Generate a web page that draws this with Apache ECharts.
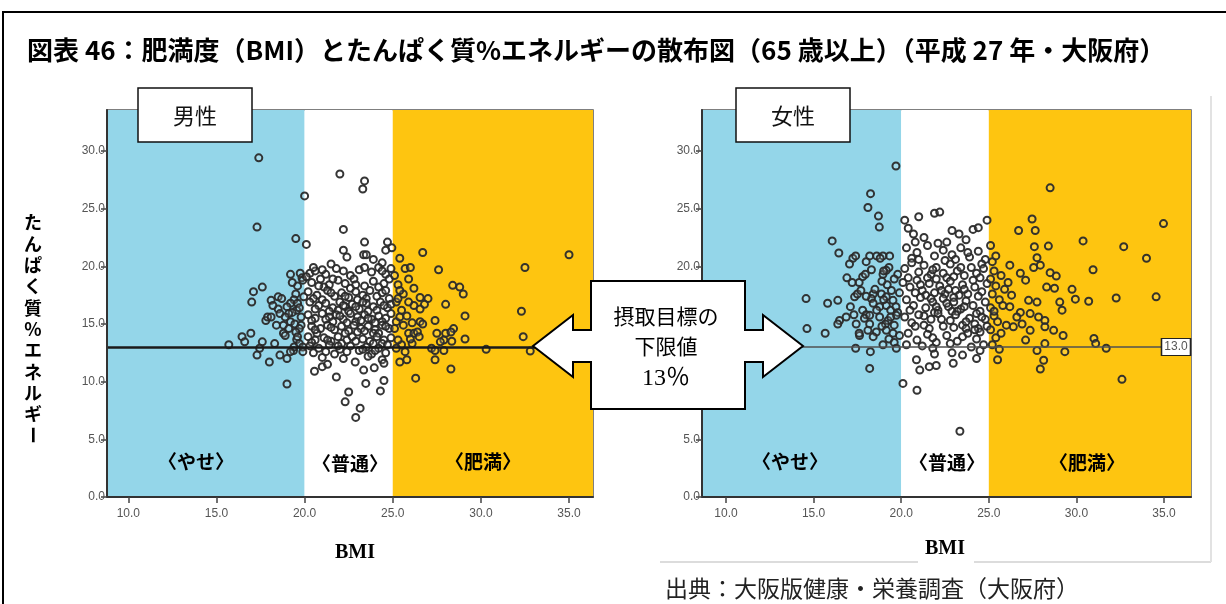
<!DOCTYPE html>
<html><head><meta charset="utf-8">
<script src="https://cdn.jsdelivr.net/npm/echarts@6/dist/echarts.min.js"></script>
<style>html,body{margin:0;padding:0;background:#fff}#c{width:1226px;height:604px}</style>
</head><body><div id="c"></div>
<script>
// ---- data ----
const xTicks = [10, 15, 20, 25, 30, 35];
const yTicks = [0, 5, 10, 15, 20, 25, 30];
const bmiBands = [20, 25];          // やせ / 普通 / 肥満 boundaries
const targetPct = 13;               // 摂取目標の下限値
const bandNames = ['〈やせ〉', '〈普通〉', '〈肥満〉'];
const panelNames = ['男性', '女性'];

const malePoints = [
  // やせ (<20)
  [17.4,29.4],[17.3,23.4],[19.5,22.4],[20.0,26.1],
  [19.2,19.3],[19.75,19.4],[19.85,19.0],[19.6,18.3],[19.9,18.8],[19.3,18.6],
  [17.1,17.8],[17.6,18.2],[17.0,16.9],[18.1,17.05],[18.5,17.35],[18.7,17.2],[19.5,17.6],[19.95,17.35],[19.4,17.1],
  [19.2,16.8],[19.0,16.5],[19.6,16.8],[18.5,16.3],[19.55,16.2],[19.3,16.0],[19.1,15.9],[19.7,16.4],[18.6,15.9],[18.2,16.6],
  [17.8,15.3],[17.9,15.6],[18.1,15.6],[18.9,15.6],[19.8,15.6],[19.2,15.2],[19.45,15.0],[18.4,14.9],[18.8,14.9],[19.8,14.9],
  [19.7,14.6],[19.5,14.3],[18.8,14.2],[18.9,14.0],[19.1,14.6],[16.45,13.9],[16.95,14.2],[16.6,13.45],[15.7,13.2],[17.6,13.45],[19.55,13.65],[19.6,13.9],[19.7,13.3],[18.3,13.3],
  [17.45,12.9],[17.3,12.3],[19.37,12.7],[19.9,13.0],[19.4,13.0],[19.9,12.6],[19.2,12.6],[18.6,12.3],[19.0,12.0],[18.0,11.7],[19.0,9.8],
  // 普通 (20-25)
  [22.0,28.0],[23.4,27.4],[23.3,26.7],[22.2,23.2],[20.1,21.9],[23.4,22.1],[24.7,22.1],[24.95,21.6],[22.2,21.4],[22.4,20.8],[23.35,21.0],[23.5,21.0],[24.6,21.4],[24.4,20.3],[23.9,20.6],
  [20.3,19.4],[20.6,19.6],[21.2,19.3],[21.8,19.8],[22.6,19.2],[23.1,19.7],[23.8,19.5],[24.2,19.9],[24.6,19.3],[24.9,19.8],[20.1,19.1],[21.5,20.2],
  [20.5,19.9],[21.0,19.7],[22.2,19.6],[23.4,19.9],[24.4,19.6],
  [20.4,18.6],[20.9,18.9],[21.4,18.4],[21.9,18.8],[22.3,18.5],[22.8,18.9],[23.4,18.3],[23.9,18.7],[24.5,18.5],[24.8,18.9],[21.1,18.2],[22.6,18.1],
  [20.8,18.3],[21.6,18.9],[22.9,18.4],[24.2,18.2],
  [20.2,17.8],[20.7,17.5],[21.3,17.9],[21.7,17.4],[22.1,17.7],[22.5,17.3],[22.9,17.8],[23.3,17.5],[23.7,17.9],[24.1,17.4],[24.4,17.7],[24.8,17.2],[21.0,17.1],[23.0,17.1],
  [20.5,17.2],[21.5,17.7],[22.3,17.4],[23.5,17.2],[24.6,17.9],
  [20.3,16.9],[20.8,16.6],[21.2,16.8],[21.6,16.4],[22.0,16.9],[22.3,16.5],[22.7,16.7],[23.1,16.3],[23.5,16.8],[23.9,16.5],[24.3,16.9],[24.7,16.4],[21.9,16.2],[22.5,16.1],[23.6,16.1],[24.9,16.7],
  [20.6,16.3],[21.4,16.1],[22.2,16.6],[22.9,16.5],[23.3,16.9],[24.1,16.2],[24.5,16.6],
  [20.2,15.8],[20.6,15.5],[21.0,15.9],[21.4,15.6],[21.8,15.8],[22.2,15.4],[22.6,15.9],[23.0,15.6],[23.4,15.8],[23.8,15.4],[24.2,15.7],[24.6,15.5],[24.9,15.9],[21.6,15.2],[22.9,15.2],[24.0,15.1],
  [20.4,15.3],[21.2,15.4],[22.0,15.7],[22.4,15.1],[23.2,15.3],[23.6,15.5],[24.4,15.2],
  [20.4,14.8],[20.9,14.6],[21.3,14.9],[21.7,14.5],[22.1,14.8],[22.5,14.4],[22.8,14.9],[23.2,14.6],[23.6,14.8],[24.0,14.5],[24.4,14.9],[24.8,14.6],[20.7,14.2],[23.9,14.2],
  [20.6,14.5],[21.5,14.7],[22.3,14.2],[23.0,14.3],[23.4,14.4],[24.2,14.2],[24.6,14.8],
  [20.2,13.9],[20.6,13.6],[21.1,13.8],[21.5,13.5],[21.9,13.9],[22.4,13.6],[22.7,13.9],[23.3,13.7],[23.7,13.5],[24.1,13.9],[24.5,13.6],[24.9,13.8],
  [20.4,13.4],[21.3,13.6],[22.1,13.3],[22.9,13.5],[23.9,13.3],[24.4,13.3],
  [20.3,13.1],[20.8,12.9],[21.4,13.2],[22.0,12.8],[22.6,13.1],[23.1,12.7],[23.5,13.0],[24.2,12.9],[24.7,13.2],[24.6,12.5],[21.7,12.4],[23.8,12.4],
  [21.9,13.1],[23.3,12.8],[20.5,12.5],[22.4,12.6],[21.2,12.6],[24.0,12.7],
  [21.0,12.1],[22.2,12.0],[23.6,12.2],[24.4,11.9],
  [20.56,10.9],[21.0,11.3],[21.3,11.5],[21.8,10.4],[22.87,11.7],[23.35,11.0],[23.95,11.2],[24.5,11.6],[24.5,10.1],[23.47,9.85],[22.5,9.1],[22.3,8.25],[23.15,7.7],[22.9,6.9],[24.3,9.2],
  // 肥満 (>=25)
  [25.4,20.7],[25.7,19.8],[26.0,19.9],[25.9,18.9],[26.7,21.2],[27.6,19.7],[32.5,19.9],[35.0,21.0],
  [28.4,18.35],[28.8,18.2],[29.0,17.6],[26.55,17.3],[27.0,17.2],[26.2,16.6],[26.55,16.3],[28.0,16.7],[29.1,15.7],[32.3,16.1],
  [25.2,15.2],[25.4,15.6],[26.55,15.2],[26.7,15.0],[27.4,15.3],[28.45,14.6],[25.9,14.2],[26.2,14.2],[26.4,14.3],[27.5,14.2],[28.0,14.2],[28.3,14.3],[29.1,13.7],[32.4,13.9],[27.9,13.6],[27.7,13.45],[28.35,13.5],
  [25.5,13.2],[26.1,13.3],[27.2,12.9],[27.4,12.7],[27.9,12.7],[30.3,12.8],[32.8,12.65],[25.4,11.7],[25.8,11.9],[27.4,11.9],[28.3,11.1],[26.3,10.3],
  [25.1,19.2],[25.3,18.4],[25.6,17.6],[25.2,16.9],[25.5,16.2],[25.1,14.6],[25.8,15.7],[25.3,13.6],[25.9,16.9],[26.2,18.1],[25.4,17.9],[26.0,13.7],[25.2,12.9],
  [25.6,14.9],[26.5,13.9],[25.7,12.6],[26.8,16.7],[25.3,17.2],[26.1,15.1]
];

const femalePoints = [
  // やせ (<20)
  [19.7,28.7],[18.25,26.3],[18.1,25.1],[18.7,24.35],[18.75,23.4],[16.06,22.2],[16.44,21.15],[17.24,20.7],[17.4,20.9],[17.05,20.2],
  [18.2,20.9],[18.6,20.9],[18.96,20.9],[19.34,20.9],[18.8,20.7],[18.0,20.4],[19.3,19.9],
  [18.3,19.7],[17.8,19.1],[17.95,19.3],[18.96,19.3],[19.15,19.65],[17.6,18.6],[19.0,19.6],[19.8,19.3],[16.9,19.0],[17.2,18.6],
  [14.57,17.2],[15.8,16.8],[16.38,17.05],[17.34,17.35],[17.5,17.6],[18.4,17.6],[18.87,17.6],[19.15,17.35],[19.44,17.9],[19.53,17.05],[17.7,17.9],[18.3,17.2],[19.2,18.4],[19.6,18.9],[19.9,17.7],[18.5,18.0],[18.9,18.7],[19.0,17.1],[18.0,17.4],
  [18.4,16.8],[18.77,16.5],[19.15,16.6],[17.1,16.5],[17.8,16.2],[19.4,16.2],[19.8,16.0],[18.0,15.8],[19.7,16.5],[18.6,16.2],[17.3,15.8],
  [16.48,15.3],[16.86,15.6],[16.38,15.0],[17.43,15.0],[17.9,15.5],[18.2,15.75],[18.77,15.6],[19.25,15.3],[19.72,15.75],[19.1,15.0],[19.6,14.9],[18.2,15.0],[19.4,15.6],[18.9,14.8],
  [14.62,14.6],[15.66,14.2],[17.62,14.0],[18.1,14.45],[18.58,14.3],[19.15,14.45],[19.53,14.2],[17.6,14.2],[18.4,13.9],[19.9,14.0],[19.3,13.7],[19.6,13.4],
  [17.4,12.9],[18.24,12.6],[18.96,13.2],[19.72,12.9],[18.2,11.15],
  // 普通 (20-25)
  [20.2,24.0],[21.0,24.3],[21.9,24.6],[22.2,24.7],[20.4,23.3],[23.3,22.8],[24.1,23.2],[24.4,23.35],[24.9,24.0],[21.3,22.5],[22.6,22.1],[20.7,22.8],[23.7,22.3],[20.8,22.1],[22.9,23.1],
  [20.3,21.6],[20.9,21.2],[21.5,21.8],[21.9,20.9],[22.4,21.4],[22.9,21.0],[23.4,21.6],[23.9,20.8],[24.4,21.3],[24.8,20.6],[20.6,20.7],[22.1,22.0],[23.1,20.6],[21.0,20.6],[22.5,20.5],[23.8,21.2],[24.6,20.2],
  [20.2,19.8],[20.6,20.3],[21.0,19.5],[21.3,20.1],[21.7,19.3],[22.0,19.9],[22.4,19.4],[22.8,20.2],[23.2,19.6],[23.6,19.2],[24.0,19.9],[24.3,19.4],[24.7,19.8],[21.5,19.0],[23.0,19.1],
  [20.4,19.0],[21.8,19.7],[22.6,19.0],[23.4,19.9],[24.5,19.0],
  [20.1,18.6],[20.5,18.2],[20.9,18.8],[21.2,17.9],[21.6,18.5],[21.9,17.7],[22.2,18.3],[22.5,17.6],[22.8,18.7],[23.1,17.9],[23.5,18.4],[23.8,17.6],[24.2,18.2],[24.6,17.8],[24.9,18.5],[21.4,17.5],[22.7,18.0],[23.3,17.5],[22.0,18.9],
  [21.1,18.4],[24.1,18.8],[20.8,17.7],[21.7,17.2],[22.3,17.9],[23.0,17.3],[23.6,18.0],[24.4,17.4],
  [20.3,17.1],[20.7,16.6],[21.1,17.3],[21.4,16.4],[21.8,16.9],[22.1,16.2],[22.4,17.2],[22.7,16.5],[23.0,16.9],[23.4,16.3],[23.7,17.0],[24.1,16.6],[24.5,16.1],[24.8,16.9],[21.9,16.0],[22.6,16.8],[23.2,16.1],
  [20.5,16.2],[21.3,15.7],[22.0,16.5],[22.9,16.1],[23.6,16.5],[24.3,15.9],[24.8,15.4],
  [20.2,15.6],[20.6,15.1],[21.0,15.8],[21.3,14.9],[21.7,15.4],[22.1,15.9],[22.4,14.8],[22.8,15.3],[23.1,15.8],[23.5,14.9],[23.9,15.5],[24.2,15.0],[24.6,15.6],[24.9,14.8],[24.4,14.6],[23.7,14.6],
  [20.8,14.8],[21.6,14.6],[22.3,15.4],[23.0,14.7],[23.7,15.2],[24.5,14.3],
  [20.4,14.2],[20.9,13.6],[21.5,14.1],[22.0,13.4],[22.6,14.0],[23.2,13.5],[23.8,14.2],[24.3,13.7],[24.7,13.2],[24.0,13.0],[21.2,13.1],
  [20.3,13.2],[21.8,13.8],[22.8,13.3],[23.5,13.9],[24.2,14.5],
  [21.8,12.9],[21.9,12.4],[24.5,12.7],[22.9,12.5],[23.5,12.3],[20.87,11.9],[21.06,11.0],[21.6,11.3],[22.0,11.4],[22.97,11.6],[20.1,9.85],[20.9,9.25],[23.35,5.7],[24.3,12.0],
  // 肥満 (>=25)
  [28.5,26.8],[34.97,23.7],[27.47,24.1],[26.7,23.1],[27.65,23.1],[30.38,22.2],[32.7,21.7],[34.0,20.7],[27.6,21.7],[28.4,21.75],[27.75,20.75],[27.56,19.9],[27.94,20.1],[30.95,19.7],[28.5,19.45],[28.85,19.15],
  [26.2,20.1],[26.8,19.4],[27.1,18.8],[28.3,18.2],[28.75,18.1],[29.75,18.0],[29.94,17.15],[30.7,16.97],[32.27,17.25],[34.55,17.35],[29.05,16.9],[29.18,16.2],[27.27,17.05],[27.75,16.9],
  [26.2,16.5],[26.8,16.0],[27.36,15.9],[27.84,15.6],[28.2,15.3],[26.4,14.75],[26.9,15.0],[27.36,14.45],[28.2,14.75],[28.7,14.45],[29.24,14.0],[31.0,13.75],[31.1,13.3],[31.7,12.9],
  [27.1,13.6],[28.2,13.3],[27.75,12.7],[29.34,12.6],[28.13,11.86],[27.94,11.1],[32.6,10.2],
  [25.1,21.8],[25.2,20.4],[25.3,19.6],[25.1,18.9],[25.4,18.3],[25.2,17.6],[25.6,17.1],[25.1,16.4],[25.3,15.7],[25.5,15.2],[25.1,14.5],[25.4,13.8],[25.2,13.2],[25.6,12.8],[25.8,16.6],[25.9,18.0],[26.0,14.9],[25.7,19.2],[25.5,11.9],
  [25.3,16.1],[25.7,14.2],[26.3,17.5],[26.6,15.6],[25.4,20.9],[26.1,18.6]
];

// ---- chart ----
const BLUE = '#94D6E9', ORANGE = '#FEC510';
const xRanges = [[8.79, 36.36], [8.63, 36.54]];
const yMax = 33.55;
const chart = echarts.init(document.getElementById('c'), null, {renderer: 'canvas'});

function axisX(i) {
  return {
    type: 'value', gridIndex: i, min: xRanges[i][0], max: xRanges[i][1], z: 5,
    axisLine: {show: true, onZero: false, lineStyle: {color: '#333', width: 2}},
    axisTick: {show: true, customValues: xTicks, length: 6, lineStyle: {color: '#444', width: 1.5}},
    axisLabel: {customValues: xTicks, formatter: v => Number(v).toFixed(1), color: '#555', fontSize: 12, margin: 11, fontFamily: 'Liberation Sans'},
    splitLine: {show: false}
  };
}
function axisY(i) {
  return {
    type: 'value', gridIndex: i, min: 0, max: yMax, z: 5,
    axisLine: {show: true, lineStyle: {color: '#333', width: 2}},
    axisTick: {show: true, customValues: yTicks, length: 6, lineStyle: {color: '#444', width: 1.5}},
    axisLabel: {customValues: yTicks, formatter: v => Number(v).toFixed(1), color: '#555', fontSize: 12, margin: 2, fontFamily: 'Liberation Sans'},
    splitLine: {show: false}
  };
}
function scatterSeries(i, pts, lineColor, lineWidth, withLabel) {
  const s = {
    type: 'scatter', xAxisIndex: i, yAxisIndex: i, data: pts, symbol: 'circle', symbolSize: 7,
    itemStyle: {color: 'rgba(255,255,255,0.15)', borderColor: '#2a2a2a', borderWidth: 2, opacity: 0.95},
    silent: true,
    markArea: {silent: true, z: 1, data: [
      [{xAxis: xRanges[i][0], itemStyle: {color: BLUE, opacity: 1}}, {xAxis: bmiBands[0]}],
      [{xAxis: bmiBands[0], itemStyle: {color: '#ffffff', opacity: 1}}, {xAxis: bmiBands[1]}],
      [{xAxis: bmiBands[1], itemStyle: {color: ORANGE, opacity: 1}}, {xAxis: xRanges[i][1]}]
    ]},
    markLine: {silent: true, symbol: 'none', label: {show: false},
      lineStyle: {color: lineColor, width: lineWidth, type: 'solid'},
      data: [{yAxis: targetPct}]}
  };
  if (withLabel) {
    s.markPoint = {silent: true, data: [{coord: [xRanges[i][1], targetPct], symbol: 'rect', symbolSize: [29, 17], symbolOffset: [-15, 0],
      itemStyle: {color: '#fff', borderColor: '#222', borderWidth: 1.2},
      label: {show: true, formatter: targetPct.toFixed(1), color: '#555', fontSize: 12, fontFamily: 'Liberation Sans'}}]};
  }
  return s;
}

const FJ = '"Noto Sans CJK JP", sans-serif';
const yTitleChars = 'たんぱく質%エネルギ';
const graphics = [
  {type: 'rect', z: 100, shape: {x: 3, y: 12, width: 1250, height: 620}, style: {fill: 'none', stroke: '#000', lineWidth: 2}},
  {type: 'text', z: 100, x: 27, y: 50, style: {text: '図表 46：肥満度（BMI）とたんぱく質%エネルギーの散布図（65 歳以上）（平成 27 年・大阪府）',
    font: 'bold 26px ' + FJ, fill: '#000', textVerticalAlign: 'middle'}},
  // y-axis title (vertical)
  {type: 'text', z: 100, x: 33, y: 212, style: {text: yTitleChars.split('').join('\n'), font: 'bold 18px ' + FJ, lineHeight: 21.3,
    fill: '#000', textAlign: 'center'}},
  {type: 'text', z: 100, x: 33, y: 435, rotation: -Math.PI / 2, style: {text: 'ー', font: 'bold 18px ' + FJ, fill: '#000', textAlign: 'center', textVerticalAlign: 'middle'}},
  // panel name boxes
  {type: 'rect', z: 100, shape: {x: 138, y: 88, width: 114, height: 54}, style: {fill: '#fff', stroke: '#111', lineWidth: 1.5}},
  {type: 'text', z: 101, x: 195, y: 116, style: {text: panelNames[0], font: '22px ' + FJ, fill: '#111', textAlign: 'center', textVerticalAlign: 'middle'}},
  {type: 'rect', z: 100, shape: {x: 736, y: 88, width: 114, height: 54}, style: {fill: '#fff', stroke: '#111', lineWidth: 1.5}},
  {type: 'text', z: 101, x: 793, y: 116, style: {text: panelNames[1], font: '22px ' + FJ, fill: '#111', textAlign: 'center', textVerticalAlign: 'middle'}},
  // target arrow
  {type: 'polygon', z: 100, shape: {points: [[591,281],[745,281],[745,330],[763,330],[763,315],[803,346],[763,377],[763,362],[745,362],[745,409],
    [591,409],[591,362],[573,362],[573,377],[533,346],[573,315],[573,330],[591,330]]},
    style: {fill: '#fff', stroke: '#000', lineWidth: 2}},
  {type: 'text', z: 101, x: 666, y: 316, style: {text: '摂取目標の', font: '21px ' + FJ, fill: '#000', textAlign: 'center', textVerticalAlign: 'middle'}},
  {type: 'text', z: 101, x: 666, y: 346, style: {text: '下限値', font: '21px ' + FJ, fill: '#000', textAlign: 'center', textVerticalAlign: 'middle'}},
  {type: 'text', z: 101, x: 666, y: 379, style: {text: targetPct + '％', font: '24px "Liberation Serif", ' + FJ, fill: '#000', textAlign: 'center', textVerticalAlign: 'middle'}},
  // BMI labels
  {type: 'text', z: 100, x: 355, y: 553, style: {text: 'BMI', font: 'bold 20px "Liberation Serif"', fill: '#000', textAlign: 'center', textVerticalAlign: 'middle'}},
  {type: 'line', z: 99, shape: {x1: 660, y1: 562, x2: 1211, y2: 562}, style: {stroke: '#dcdcdc', lineWidth: 2}},
  {type: 'line', z: 99, shape: {x1: 1211, y1: 96, x2: 1211, y2: 562}, style: {stroke: '#e2e2e2', lineWidth: 2}},
  {type: 'rect', z: 100, shape: {x: 918, y: 535, width: 56, height: 30}, style: {fill: '#fff'}},
  {type: 'text', z: 101, x: 945, y: 549, style: {text: 'BMI', font: 'bold 20px "Liberation Serif"', fill: '#000', textAlign: 'center', textVerticalAlign: 'middle'}},
  // source
  {type: 'text', z: 100, x: 665, y: 588, style: {text: '出典：大阪版健康・栄養調査（大阪府）', font: '23px ' + FJ, fill: '#222', textVerticalAlign: 'middle'}}
];
// band labels
const bandLabelPos = [[[196, 462], [350, 464], [483, 462]], [[790, 462], [947, 463], [1087, 463]]];
bandLabelPos.forEach(panel => panel.forEach((p, k) => graphics.push(
  {type: 'text', z: 100, x: p[0], y: p[1], style: {text: bandNames[k], font: 'bold 19px ' + FJ, fill: '#000', textAlign: 'center', textVerticalAlign: 'middle'}}
)));

chart.setOption({
  animation: false,
  backgroundColor: '#fff',
  grid: [
    {left: 107, top: 110, width: 486, height: 387, show: true, borderColor: '#555', borderWidth: 1.5, backgroundColor: 'transparent'},
    {left: 702, top: 110, width: 489, height: 387, show: true, borderColor: '#555', borderWidth: 1.5, backgroundColor: 'transparent'}
  ],
  xAxis: [axisX(0), axisX(1)],
  yAxis: [axisY(0), axisY(1)],
  series: [
    scatterSeries(0, malePoints, '#1a1a1a', 2.5, false),
    scatterSeries(1, femalePoints, '#505050', 1.6, true)
  ],
  graphic: graphics
});
</script></body></html>
